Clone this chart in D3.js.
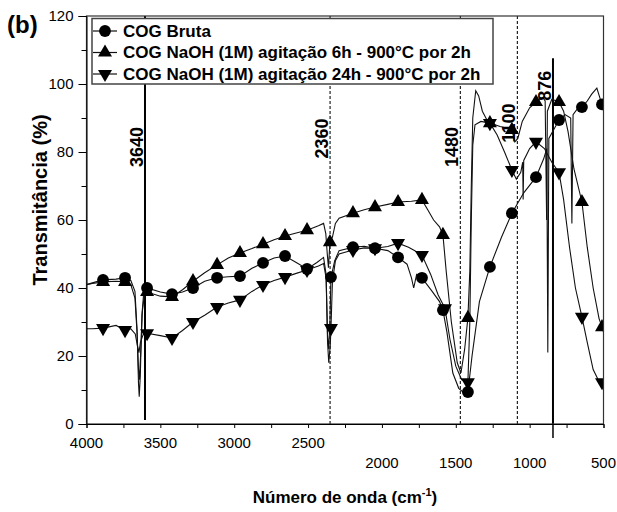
<!DOCTYPE html>
<html>
<head>
<meta charset="utf-8">
<script src="https://cdn.jsdelivr.net/npm/d3@7"></script>
<style>
  body { margin: 0; background: #fff; }
  text { font-family: Arial, "Liberation Sans", sans-serif; fill: #000; }
</style>
</head>
<body>
<div id="chart"></div>
<script>
//Series names (legend)
var seriesNames = ["COG Bruta",
                   "COG NaOH (1M) agitação 6h - 900°C por 2h",
                   "COG NaOH (1M) agitação 24h - 900°C por 2h"];

//Spectra: [wavenumber, transmittance]
var brutaLine = [[4000,41],[3960,41.5],[3888,42.4],[3800,42.6],[3739,43],[3700,42.2],[3672,39],[3658,28],[3648,12],[3643,8],[3636,14],[3625,32],[3612,39],[3590,40],[3500,38.8],[3421,38.2],[3350,38.8],[3279,40],[3200,42],[3116,43],[3040,43.3],[2961,43.5],[2880,45.8],[2805,47.4],[2730,48.8],[2656,49.4],[2580,47.5],[2507,45.6],[2440,47.5],[2395,49],[2378,44],[2368,26],[2360,22],[2352,30],[2345,43.2],[2335,45],[2320,48],[2290,51],[2196,52],[2120,52.3],[2047,51.7],[1960,51],[1891,49],[1830,47],[1800,43],[1785,40],[1765,44],[1729,43],[1660,39],[1610,36],[1587,33.5],[1560,27],[1520,15],[1480,10.5],[1440,9],[1418,9.4],[1390,20],[1340,36],[1269,46.2],[1190,55],[1120,62],[1040,68],[957,72.6],[905,78],[884,81],[877,21],[870,84],[801,89.4],[760,91],[722,90],[714,59],[706,91],[680,92.5],[646,93.2],[610,95],[580,97],[545,98.8],[525,96],[510,94],[500,93.5]];
var brutaMarks = [[3888,42.4],[3739,43],[3590,40],[3421,38.2],[3279,40],[3116,43],[2961,43.5],[2805,47.4],[2656,49.4],[2507,45.6],[2345,43.2],[2196,52],[2047,51.7],[1891,49],[1729,43],[1587,33.5],[1418,9.4],[1269,46.2],[1120,62],[957,72.6],[801,89.4],[646,93.2],[510,94]];

var naoh6Line = [[4000,41],[3960,41.3],[3888,41.8],[3800,42],[3739,41.8],[3700,41],[3672,37],[3658,27],[3648,16],[3642,13],[3634,20],[3622,33],[3608,38],[3590,38.8],[3500,37.6],[3421,37.4],[3350,39.5],[3279,42],[3200,44.5],[3116,46.8],[3040,48.8],[2961,50.3],[2880,51.6],[2805,52.9],[2730,54.2],[2656,55.3],[2580,56.2],[2507,57],[2430,58.3],[2395,59],[2380,56],[2370,50],[2362,46],[2352,53.5],[2335,55],[2315,59],[2290,60.5],[2196,62],[2120,63],[2047,63.8],[1960,64.6],[1891,65.3],[1800,65.5],[1729,65.9],[1690,63],[1650,60],[1610,58],[1587,55.6],[1565,45],[1530,30],[1490,18],[1465,15],[1440,22],[1418,31.2],[1405,45],[1395,70],[1385,90],[1365,98],[1345,96.5],[1320,92],[1290,89.5],[1269,88.5],[1200,87.5],[1150,87],[1120,86.5],[1100,83],[1080,84],[1050,89],[1000,93],[957,94.7],[910,96],[895,95],[885,60],[880,92],[850,95.5],[801,94.7],[770,92],[740,86],[700,75],[646,65.3],[610,52],[570,40],[530,31],[510,28.5],[500,27]];
var naoh6Marks = [[3888,41.8],[3739,41.8],[3590,38.8],[3421,37.4],[3279,42],[3116,46.8],[2961,50.3],[2805,52.9],[2656,55.3],[2507,57],[2352,53.5],[2196,62],[2047,63.8],[1891,65.3],[1729,65.9],[1587,55.6],[1418,31.2],[1269,88.5],[1120,86.5],[957,94.7],[801,94.7],[646,65.3],[510,28.5]];

var naoh24Line = [[4000,28],[3960,28],[3888,28.2],[3800,29],[3739,27.6],[3700,28],[3670,26.5],[3655,23],[3645,21],[3635,24],[3615,26.5],[3590,26.7],[3500,26],[3421,25.3],[3350,27.5],[3279,30],[3200,32],[3116,34.4],[3040,35.6],[2961,36.5],[2880,39],[2805,40.9],[2730,42.2],[2656,43.2],[2580,44.3],[2507,45.3],[2430,46.5],[2395,47.2],[2378,43],[2368,24],[2360,18],[2350,23],[2345,28.2],[2335,42],[2315,48],[2290,50],[2196,51.2],[2120,51.8],[2047,51.7],[1960,52.2],[1891,53.2],[1820,52],[1780,51],[1729,49.7],[1670,44],[1620,38],[1573,34],[1540,25],[1500,17],[1460,13],[1418,12.3],[1405,30],[1395,60],[1385,82],[1370,88],[1330,89],[1269,88.5],[1220,85],[1170,80],[1120,74.7],[1090,72],[1060,74],[1047,77],[1044,66],[1040,77.5],[1000,81],[957,83],[900,81],[850,77],[801,74],[770,66],[730,52],[690,40],[646,31.5],[610,24],[570,16],[530,12.5],[510,12.3],[500,12]];
var naoh24Marks = [[3888,28.2],[3739,27.6],[3590,26.7],[3421,25.3],[3279,30],[3116,34.4],[2961,36.5],[2805,40.9],[2656,43.2],[2507,45.3],[2345,28.2],[2196,51.2],[2047,51.7],[1891,53.2],[1729,49.7],[1573,34],[1418,12.3],[1269,88.5],[1120,74.7],[957,83],[801,74],[646,31.5],[510,12.3]];

//Axis ticks
var xTicksRow1 = [4000, 3500, 3000, 2500];
var xTicksRow2 = [2000, 1500, 1000, 500];
var xMinorTicks = d3.range(4000, 499, -250);
var yTicks = [0, 20, 40, 60, 80, 100, 120];
var yMinorTicks = [10, 30, 50, 70, 90, 110];

//Band markers: label, where the line is drawn, line top/bottom and label level
var bandLabels = ["3640", "2360", "1480", "1100", "876"];
var bandAt = [3604, 2351, 1469, 1083, 842];
var bandTop = [120, 120, 120, 120, 107.6];
var bandBottom = [1.2, 0, 0, 0, -4.1];
var bandLabelT = [81.5, 84, 81.5, 88.5, 99.5];
var bandSolid = [true, false, false, false, true];

//Set sizes
var width = 617, height = 512;
var margin = {top: 16, right: 13.5, bottom: 88, left: 86.5};

var x = d3.scaleLinear().domain([4000, 500]).range([margin.left, width - margin.right]);
var y = d3.scaleLinear().domain([0, 120]).range([height - margin.bottom, margin.top]);

var svg = d3.select("#chart").append("svg")
            .attr("width", width)
            .attr("height", height);

svg.append("defs").append("clipPath").attr("id", "plotclip")
   .append("rect")
   .attr("x", margin.left).attr("y", margin.top)
   .attr("width", width - margin.left - margin.right)
   .attr("height", height - margin.top - margin.bottom);

var series = [
  {name: seriesNames[0], line: brutaLine, marks: brutaMarks, sym: d3.symbolCircle, size: 110, rot: 0},
  {name: seriesNames[1], line: naoh6Line, marks: naoh6Marks, sym: d3.symbolTriangle, size: 85, rot: 0},
  {name: seriesNames[2], line: naoh24Line, marks: naoh24Marks, sym: d3.symbolTriangle, size: 85, rot: 180}
];

var plot = svg.append("g").attr("clip-path", "url(#plotclip)");

//Band lines
bandLabels.forEach(function(lab, i) {
  plot.append("line")
      .attr("x1", x(bandAt[i])).attr("x2", x(bandAt[i]))
      .attr("y1", y(bandTop[i])).attr("y2", y(Math.max(bandBottom[i], 0)))
      .attr("stroke", bandSolid[i] ? "#000" : "#222")
      .attr("stroke-width", bandSolid[i] ? 2 : 1.2)
      .attr("stroke-dasharray", bandSolid[i] ? null : "3,2");
});
//876 line runs below the axis
svg.append("line")
   .attr("x1", x(bandAt[4])).attr("x2", x(bandAt[4]))
   .attr("y1", y(0)).attr("y2", y(bandBottom[4]))
   .attr("stroke", "#000").attr("stroke-width", 1.5);

//Curves
var lineGen = d3.line()
                .x(function(d) { return x(d[0]); })
                .y(function(d) { return y(d[1]); });

series.forEach(function(s) {
  plot.append("path")
      .datum(s.line)
      .attr("d", lineGen)
      .attr("fill", "none")
      .attr("stroke", "#111")
      .attr("stroke-width", 1.1);
});

series.forEach(function(s) {
  plot.selectAll(null)
      .data(s.marks)
      .enter()
      .append("path")
      .attr("d", d3.symbol().type(s.sym).size(s.size))
      .attr("transform", function(d) {
        return "translate(" + x(d[0]) + "," + y(d[1]) + ") rotate(" + s.rot + ")";
      })
      .attr("fill", "#000");
});

//Band labels
bandLabels.forEach(function(lab, i) {
  var lx = x(bandAt[i]) - 8, ly = y(bandLabelT[i]);
  svg.append("text")
     .attr("transform", "translate(" + lx + "," + ly + ") rotate(-90)")
     .attr("text-anchor", "middle")
     .attr("dominant-baseline", "central")
     .attr("font-size", 18)
     .attr("font-weight", "bold")
     .text(lab);
});

//Frame
svg.append("rect")
   .attr("x", margin.left).attr("y", margin.top)
   .attr("width", width - margin.left - margin.right)
   .attr("height", height - margin.top - margin.bottom)
   .attr("fill", "none")
   .attr("stroke", "#333")
   .attr("stroke-width", 1.2);

//Y axis
var yAxis = svg.append("g")
               .attr("transform", "translate(" + margin.left + ",0)")
               .call(d3.axisLeft(y).tickValues(yTicks).tickSize(8).tickPadding(5));
yAxis.select(".domain").attr("stroke", "#000");
yAxis.selectAll("text").attr("font-size", 15).attr("font-family", "Arial, 'Liberation Sans', sans-serif");
svg.append("g")
   .attr("transform", "translate(" + margin.left + ",0)")
   .call(d3.axisLeft(y).tickValues(yMinorTicks).tickSize(5).tickFormat(""))
   .select(".domain").remove();

//X axis ticks and two rows of labels
var xAxis = svg.append("g")
               .attr("transform", "translate(0," + y(0) + ")")
               .call(d3.axisBottom(x).tickValues(xMinorTicks).tickSize(4).tickFormat(""));
xAxis.select(".domain").attr("stroke", "#000");

svg.selectAll(null)
   .data(xTicksRow1)
   .enter()
   .append("text")
   .attr("x", function(d) { return x(d); })
   .attr("y", y(0) + 24)
   .attr("text-anchor", "middle")
   .attr("font-size", 15)
   .text(function(d) { return d; });

svg.selectAll(null)
   .data(xTicksRow2)
   .enter()
   .append("text")
   .attr("x", function(d) { return x(d); })
   .attr("y", y(0) + 44)
   .attr("text-anchor", "middle")
   .attr("font-size", 15)
   .text(function(d) { return d; });

//Axis titles
svg.append("text")
   .attr("transform", "translate(47,200) rotate(-90)")
   .attr("text-anchor", "middle")
   .attr("font-size", 20)
   .attr("font-weight", "bold")
   .text("Transmitância (%)");

var xt = svg.append("text")
            .attr("x", 345)
            .attr("y", 503)
            .attr("text-anchor", "middle")
            .attr("font-size", 17)
            .attr("font-weight", "bold");
xt.append("tspan").text("Número de onda (cm");
xt.append("tspan").attr("font-size", 11).attr("dy", -7).text("-1");
xt.append("tspan").attr("dy", 7).text(")");

svg.append("text")
   .attr("x", 7).attr("y", 33)
   .attr("font-size", 24)
   .attr("font-weight", "bold")
   .text("(b)");

//Legend
var legend = svg.append("g");
legend.append("rect")
      .attr("x", 92).attr("y", 18.5)
      .attr("width", 401).attr("height", 65.5)
      .attr("fill", "#fff")
      .attr("stroke", "#444")
      .attr("stroke-width", 1.5);

series.forEach(function(s, i) {
  var ry = 31 + i * 21.5;
  legend.append("line")
        .attr("x1", 93).attr("x2", 117)
        .attr("y1", ry).attr("y2", ry)
        .attr("stroke", "#111").attr("stroke-width", 1.2);
  legend.append("path")
        .attr("d", d3.symbol().type(s.sym).size(s.size))
        .attr("transform", "translate(105," + ry + ") rotate(" + s.rot + ")")
        .attr("fill", "#000");
  legend.append("text")
        .attr("x", 123).attr("y", ry)
        .attr("dominant-baseline", "central")
        .attr("font-size", 17)
        .attr("font-weight", "bold")
        .text(s.name);
});
</script>
</body>
</html>
